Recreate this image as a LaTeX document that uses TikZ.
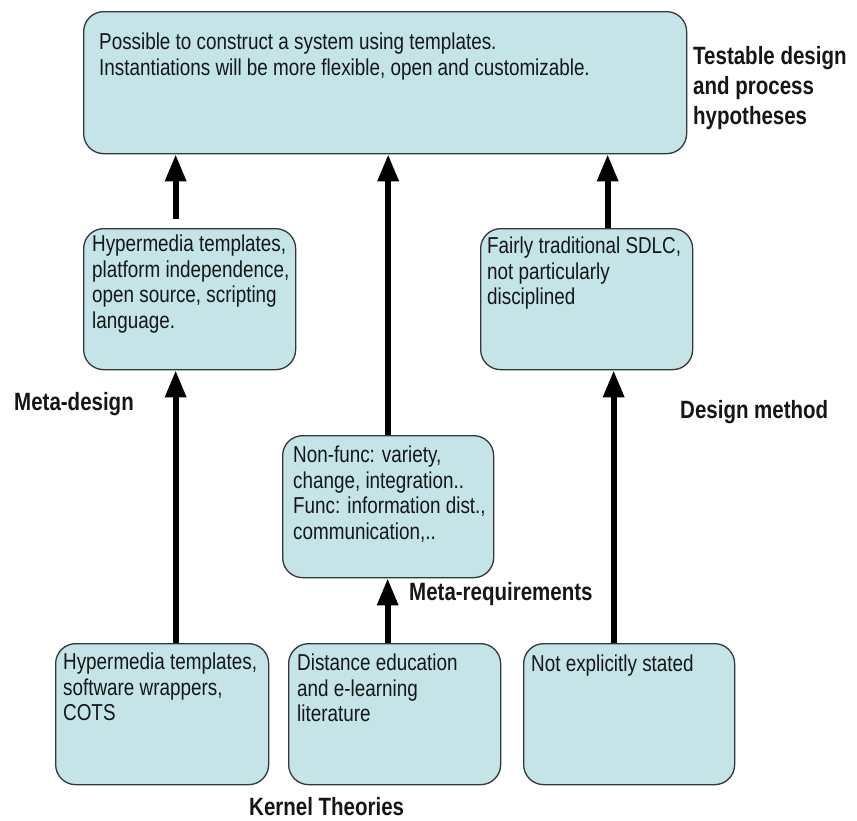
\documentclass[tikz,border=0pt]{standalone}
\usepackage{fontspec}
\setmainfont[FakeStretch=0.82]{Liberation Sans}
\usetikzlibrary{arrows.meta}
\definecolor{boxfill}{RGB}{197,228,231}
\definecolor{boxline}{RGB}{50,55,60}
\definecolor{ink}{RGB}{20,22,24}
\begin{document}
\begin{tikzpicture}[x=1pt,y=-1pt,
  box/.style={draw=boxline, line width=1.3pt, fill=boxfill, rounded corners=20pt, anchor=north west, inner sep=0pt},
  txt/.style={anchor=north west, inner sep=0pt, align=left, text=ink, font=\fontsize{23}{25.5}\selectfont},
  lbl/.style={anchor=base west, inner sep=0pt, align=left, text=ink, font=\fontsize{25}{30}\selectfont\bfseries},
  arr/.style={draw=black, line width=6pt, -{Triangle[width=20pt,length=27pt]}}]
\useasboundingbox (0,0) rectangle (857,820);
\fill[white] (0,0) rectangle (857,820);

% boxes
\node[box, minimum width=603pt, minimum height=142pt] (top) at (83,11) {};
\node[box, minimum width=212pt, minimum height=141pt] (ml) at (83,228) {};
\node[box, minimum width=212pt, minimum height=141pt] (mr) at (480,228) {};
\node[box, minimum width=211pt, minimum height=142pt] (mq) at (282,435) {};
\node[box, minimum width=213pt, minimum height=141pt] (bl) at (55,643) {};
\node[box, minimum width=212pt, minimum height=141pt] (bm) at (288,643) {};
\node[box, minimum width=211pt, minimum height=141pt] (br) at (523,643) {};

% box texts
\node[txt] (toptext) at (99,33) {Possible to construct a system using templates.\\Instantiations will be more flexible, open and customizable.};
\node[txt] (mltext) at (92,235) {Hypermedia templates,\\platform independence,\\open source, scripting\\language.};
\node[txt] (mrtext) at (487,237) {Fairly traditional SDLC,\\not particularly\\disciplined};
\node[txt] (mqtext) at (293,446) {Non-func: variety,\\change, integration..\\Func: information dist.,\\communication,..};
\node[txt] (bltext) at (63,653) {Hypermedia templates,\\software wrappers,\\COTS};
\node[txt] (bmtext) at (297,654) {Distance education\\and e-learning\\literature};
\node[txt] (brtext) at (531,655) {Not explicitly stated};

% labels
\node[anchor=north west, inner sep=0pt, align=left, text=ink, font=\fontsize{25}{30}\selectfont\bfseries] (hyp) at (693,46) {Testable design\\and process\\hypotheses};
\node[lbl] (metadesign) at (14,410) {Meta-design};
\node[lbl] (designmethod) at (680,418) {Design method};
\node[lbl] (metareq) at (409,600) {Meta-requirements};
\node[lbl] (kernel) at (249,815) {Kernel Theories};

% arrows
\draw[arr, shorten <=9pt] ([xshift=-14pt]ml.north) -- ([xshift=-14pt]ml.north |- top.south);
\draw[arr] ([xshift=21pt]mr.north) -- ([xshift=21pt]mr.north |- top.south);
\draw[arr] (mq.north) -- (mq.north |- top.south);
\draw[arr] ([xshift=-7pt]bm.north) -- ([xshift=-7pt]bm.north |- mq.south);
\draw[arr] ([xshift=13.5pt]bl.north) -- ([xshift=13.5pt]bl.north |- ml.south);
\draw[arr] ([xshift=-15.5pt]br.north) -- ([xshift=-15.5pt]br.north |- mr.south);
\end{tikzpicture}
\end{document}
